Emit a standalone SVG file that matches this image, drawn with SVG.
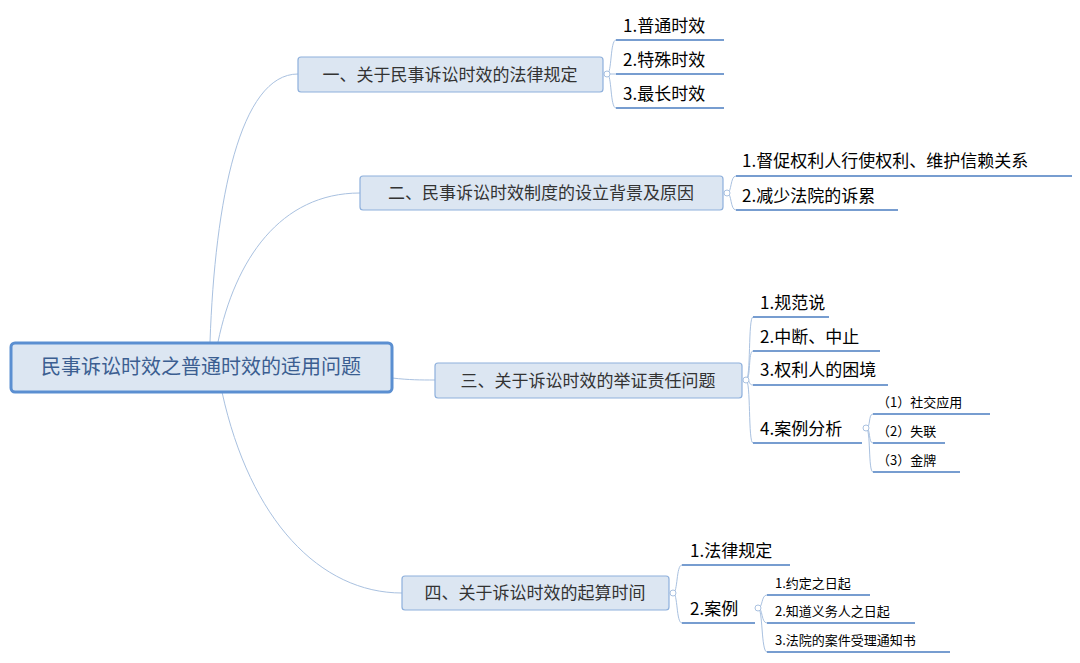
<svg xmlns="http://www.w3.org/2000/svg" width="1080" height="663" viewBox="0 0 1080 663">
<style>
text{font-family:"Noto Sans CJK SC","Noto Sans",sans-serif;fill:#000}
.b rect{fill:#dce6f2;stroke:#8eb0dc;stroke-width:1.2}
.b text{font-size:17px;fill:#333}
.l text{font-size:17px}
.s text{font-size:13px}
.u{stroke:#4a7cc0;stroke-width:1.5}
.c{fill:none;stroke:#a9c1e0;stroke-width:1}
.k{fill:#fff;stroke:#a9c1e0;stroke-width:1}
</style>
<rect width="1080" height="663" fill="#fff"/>
<g id="connectors">
<path class="c" d="M210,342 C215,200 240,74 298,74"/>
<path class="c" d="M218,342 C235,260 280,193 360,193"/>
<path class="c" d="M392,378 C410,380 420,380 435,380"/>
<path class="c" d="M222,392 C250,520 320,593 402,593"/>
<path class="c" d="M607,74 C612,74 610,40 616,40 M607,74 L616,74 M607,74 C612,74 610,108 616,108"/>
<path class="c" d="M727,193 C732,193 730,176 736,176 M727,193 C732,193 730,210 736,210"/>
<path class="c" d="M746,380 C751,380 748,317 753,317 M746,380 C751,380 748,351 753,351 M746,380 C751,380 748,385 753,385 M746,380 C751,380 748,443 753,443"/>
<path class="c" d="M866,428 C871,428 868,414 873,414 M866,428 C871,428 868,443 873,443 M866,428 C871,428 868,472 873,472"/>
<path class="c" d="M673,593 C678,593 676,565 682,565 M673,593 C678,593 676,623 682,623"/>
<path class="c" d="M758,608 C763,608 761,595 767,595 M758,608 C763,608 761,623 767,623 M758,608 C763,608 761,652 767,652"/>
<circle class="k" cx="607" cy="74" r="3"/><circle class="k" cx="727" cy="193" r="3"/>
<circle class="k" cx="746" cy="380" r="3"/><circle class="k" cx="866" cy="428" r="3"/>
<circle class="k" cx="673" cy="593" r="3"/><circle class="k" cx="758" cy="608" r="3"/>
</g>
<g id="root"><rect x="11" y="343" width="381" height="49" rx="4" fill="#dce6f2" stroke="#5b8fd1" stroke-width="3"/>
<text x="201" y="374" font-size="20" text-anchor="middle" style="fill:#3b5e91">民事诉讼时效之普通时效的适用问题</text></g>
<g id="b1" class="b"><rect x="298" y="57" width="305" height="35" rx="3"/><text x="450" y="81" text-anchor="middle">一、关于民事诉讼时效的法律规定</text></g>
<g id="b2" class="b"><rect x="360" y="176" width="363" height="34" rx="3"/><text x="541" y="199" text-anchor="middle">二、民事诉讼时效制度的设立背景及原因</text></g>
<g id="b3" class="b"><rect x="435" y="363" width="307" height="35" rx="3"/><text x="588" y="387" text-anchor="middle">三、关于诉讼时效的举证责任问题</text></g>
<g id="b4" class="b"><rect x="402" y="576" width="267" height="34" rx="3"/><text x="535" y="599" text-anchor="middle">四、关于诉讼时效的起算时间</text></g>
<g id="l11" class="l"><text x="623" y="32">1.普通时效</text><line class="u" x1="616" y1="40" x2="724" y2="40"/></g>
<g id="l12" class="l"><text x="623" y="66">2.特殊时效</text><line class="u" x1="616" y1="74" x2="724" y2="74"/></g>
<g id="l13" class="l"><text x="623" y="100">3.最长时效</text><line class="u" x1="616" y1="108" x2="724" y2="108"/></g>
<g id="l21" class="l"><text x="742" y="167">1.督促权利人行使权利、维护信赖关系</text><line class="u" x1="736" y1="176" x2="1072" y2="176"/></g>
<g id="l22" class="l"><text x="742" y="202">2.减少法院的诉累</text><line class="u" x1="736" y1="210" x2="898" y2="210"/></g>
<g id="l31" class="l"><text x="760" y="309">1.规范说</text><line class="u" x1="753" y1="317" x2="829" y2="317"/></g>
<g id="l32" class="l"><text x="760" y="343">2.中断、中止</text><line class="u" x1="753" y1="351" x2="880" y2="351"/></g>
<g id="l33" class="l"><text x="760" y="376">3.权利人的困境</text><line class="u" x1="753" y1="385" x2="888" y2="385"/></g>
<g id="l34" class="l"><text x="760" y="435">4.案例分析</text><line class="u" x1="753" y1="443" x2="862" y2="443"/></g>
<g id="s1" class="s"><text x="877" y="407">（1）社交应用</text><line class="u" x1="873" y1="414" x2="990" y2="414"/></g>
<g id="s2" class="s"><text x="877" y="436">（2）失联</text><line class="u" x1="873" y1="443" x2="945" y2="443"/></g>
<g id="s3" class="s"><text x="877" y="465">（3）金牌</text><line class="u" x1="873" y1="472" x2="960" y2="472"/></g>
<g id="l41" class="l"><text x="690" y="557">1.法律规定</text><line class="u" x1="682" y1="565" x2="790" y2="565"/></g>
<g id="l42" class="l"><text x="690" y="615">2.案例</text><line class="u" x1="682" y1="623" x2="755" y2="623"/></g>
<g id="t1" class="s"><text x="775" y="588">1.约定之日起</text><line class="u" x1="767" y1="595" x2="870" y2="595"/></g>
<g id="t2" class="s"><text x="775" y="616">2.知道义务人之日起</text><line class="u" x1="767" y1="623" x2="915" y2="623"/></g>
<g id="t3" class="s"><text x="775" y="645">3.法院的案件受理通知书</text><line class="u" x1="767" y1="652" x2="950" y2="652"/></g>
</svg>
